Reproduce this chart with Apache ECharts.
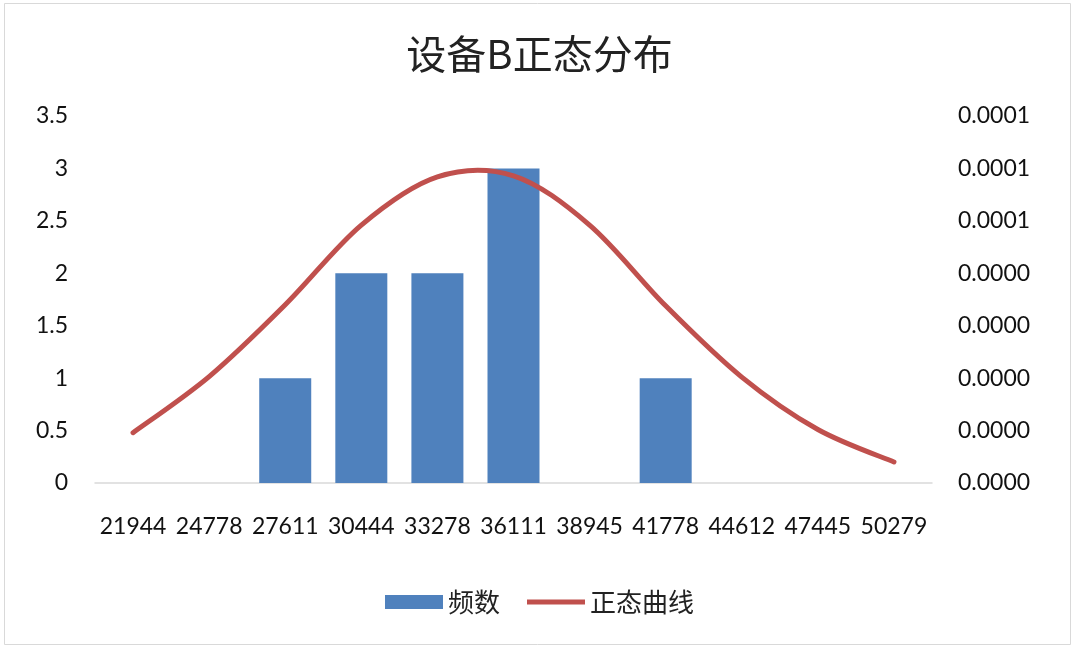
<!DOCTYPE html>
<html>
<head>
<meta charset="utf-8">
<title>设备B正态分布</title>
<script src="https://cdn.jsdelivr.net/npm/echarts@6/dist/echarts.min.js"></script>
<style>
    html, body { margin: 0; padding: 0; background: #fff; }
    #main { width: 1079px; height: 651px; }
</style>
</head>
<body>
<div id="main"></div>
<script>
// 分组区间（x轴）
var categories = ['21944', '24778', '27611', '30444', '33278', '36111', '38945', '41778', '44612', '47445', '50279'];
// 频数（左轴）
var freqData = [0, 0, 1, 2, 2, 3, 0, 1, 0, 0, 0];
// 正态曲线（右轴，概率密度）
var normalData = [0.0000096, 0.0000203, 0.0000340, 0.0000492, 0.0000584, 0.0000586, 0.0000492, 0.0000338, 0.0000202, 0.0000102, 0.0000040];

var numFont = 'Lato, "Noto Sans", sans-serif';
var cjkFont = '"Noto Sans CJK SC", sans-serif';
var curveColor = '#C0504D';

var myChart = echarts.init(document.getElementById('main'));

// 类似Excel的平滑曲线（Catmull-Rom），坐标都经由api.coord换算
function renderCurve(params, api) {
    if (params.dataIndex !== 0) {
        return;
    }
    var pts = [];
    for (var i = 0; i < normalData.length; i++) {
        pts.push(api.coord([i, normalData[i]]));
    }
    var d = 'M' + pts[0][0] + ',' + pts[0][1];
    for (var k = 0; k < pts.length - 1; k++) {
        var p0 = pts[k - 1] || pts[k];
        var p1 = pts[k];
        var p2 = pts[k + 1];
        var p3 = pts[k + 2] || pts[k + 1];
        var c1x = p1[0] + (p2[0] - p0[0]) / 6;
        var c1y = p1[1] + (p2[1] - p0[1]) / 6;
        var c2x = p2[0] - (p3[0] - p1[0]) / 6;
        var c2y = p2[1] - (p3[1] - p1[1]) / 6;
        d += ' C' + c1x + ',' + c1y + ' ' + c2x + ',' + c2y + ' ' + p2[0] + ',' + p2[1];
    }
    return {
        type: 'path',
        shape: {pathData: d},
        style: {
            fill: 'none',
            stroke: curveColor,
            lineWidth: 5,
            lineCap: 'round',
            lineJoin: 'round'
        }
    };
}

var option = {
    backgroundColor: '#fff',
    animation: false,
    graphic: [{
        type: 'rect',
        shape: {x: 4.5, y: 3.5, width: 1066, height: 641},
        style: {fill: 'none', stroke: '#D9D9D9', lineWidth: 1}
    }],
    title: {
        text: '设备B正态分布',
        left: 'center',
        top: 29,
        textStyle: {
            fontFamily: cjkFont,
            fontSize: 40,
            fontWeight: 'normal',
            color: '#222'
        }
    },
    legend: {
        bottom: 31,
        left: 'center',
        itemGap: 27,
        itemWidth: 58,
        itemHeight: 14,
        textStyle: {fontFamily: cjkFont, fontSize: 26, color: '#222'},
        data: [
            {name: '频数', icon: 'rect'},
            {name: '正态曲线', icon: 'path://M0,0 L60,0 L60,5 L0,5 Z'}
        ]
    },
    grid: {
        left: 95,
        right: 147,
        top: 116,
        bottom: 168
    },
    xAxis: {
        type: 'category',
        data: categories,
        axisLine: {lineStyle: {color: '#D9D9D9', width: 1.5}},
        axisTick: {show: false},
        axisLabel: {
            margin: 32,
            fontFamily: numFont,
            fontSize: 23,
            color: '#111',
            interval: 0
        }
    },
    yAxis: [{
        type: 'value',
        min: 0,
        max: 3.5,
        interval: 0.5,
        splitLine: {show: false},
        axisLine: {show: false},
        axisTick: {show: false},
        axisLabel: {
            margin: 27,
            fontFamily: numFont,
            fontSize: 23,
            color: '#111'
        }
    }, {
        type: 'value',
        min: 0,
        max: 0.00007,
        interval: 0.00001,
        splitLine: {show: false},
        axisLine: {show: false},
        axisTick: {show: false},
        axisLabel: {
            margin: 26,
            fontFamily: numFont,
            fontSize: 23,
            color: '#111',
            // 按4位小数显示（四舍五入）
            formatter: function (v) {
                var n = Math.round(v * 1e5);
                return (Math.round(n / 10) / 1e4).toFixed(4);
            }
        }
    }],
    series: [{
        name: '频数',
        type: 'bar',
        data: freqData,
        barWidth: 52,
        itemStyle: {
            color: '#4F81BD'
        }
    }, {
        name: '正态曲线',
        type: 'custom',
        yAxisIndex: 1,
        data: normalData.map(function (v, i) { return [i, v]; }),
        encode: {x: 0, y: 1},
        renderItem: renderCurve,
        itemStyle: {color: curveColor},
        z: 3
    }]
};

myChart.setOption(option);
window.onresize = myChart.resize;
</script>
</body>
</html>
